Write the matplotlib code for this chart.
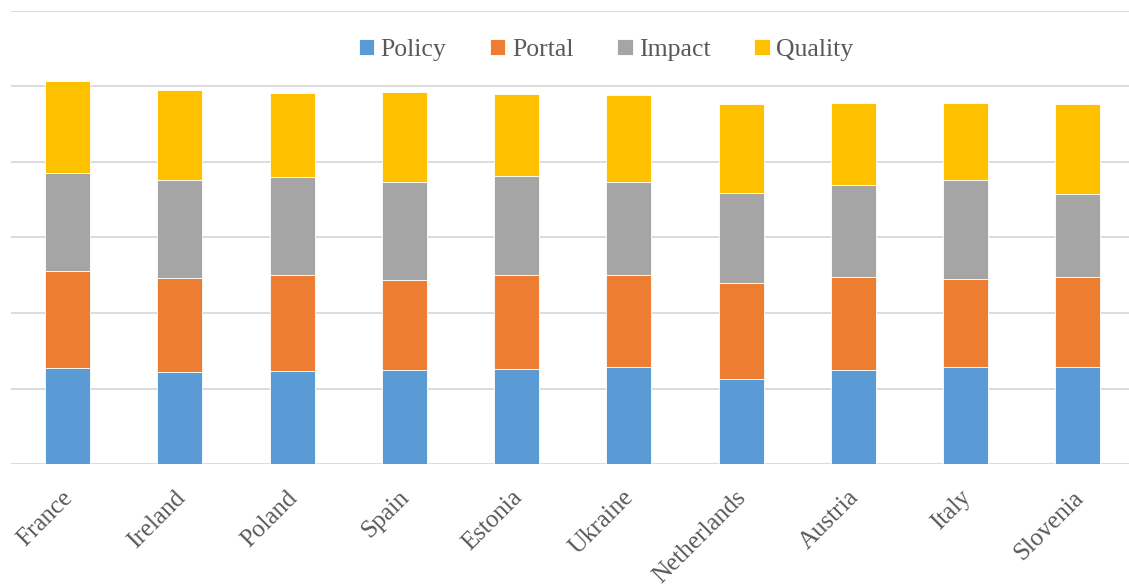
import matplotlib
matplotlib.use("Agg")
import matplotlib.pyplot as plt
import matplotlib.transforms as mtransforms
import numpy as np

countries = ["France", "Ireland", "Poland", "Spain", "Estonia", "Ukraine",
             "Netherlands", "Austria", "Italy", "Slovenia"]
policy  = [127.8, 121.7, 123.8, 124.7, 126.5, 128.3, 113.2, 124.7, 128.3, 129.1]
portal  = [127.5, 124.3, 126.2, 118.7, 124.3, 122.5, 126.2, 122.6, 117.2, 118.3]
impact  = [129.6, 129.6, 130.0, 130.0, 130.1, 122.6, 119.0, 121.7, 130.2, 109.8]
quality = [122.1, 119.4, 111.1, 119.0, 108.9, 115.5, 117.7, 109.3, 102.6, 119.4]
series_names = ["Policy", "Portal", "Impact", "Quality"]
colors = ["#5B9BD5", "#ED7D31", "#A5A5A5", "#FFC000"]

plt.rcParams['font.family'] = ['Liberation Serif', 'DejaVu Serif']

W, H = 1129, 585
fig = plt.figure(figsize=(W/100, H/100), dpi=100)
left, right = 11.4, 1134.0
bottom, top = 464.3, 10.7
ax = fig.add_axes([left/W, 1 - bottom/H, (right-left)/W, (bottom-top)/H])

x = np.arange(len(countries))
base = np.zeros(len(countries))
handles = []
for name, vals, c in zip(series_names, [policy, portal, impact, quality], colors):
    b = ax.bar(x, vals, width=0.4, bottom=base, color=c, label=name,
               edgecolor='white', linewidth=0.6, zorder=3)
    handles.append(b)
    base = base + np.array(vals)

ax.set_xlim(-0.5, len(countries) - 0.5)
ax.set_ylim(0, 600)
ax.set_yticks(np.arange(0, 601, 100))
ax.yaxis.grid(True, color='#D9D9D9', linewidth=1.3, zorder=0)
ax.tick_params(axis='y', left=False, labelleft=False)
ax.tick_params(axis='x', length=0, pad=16, labelsize=18, labelcolor='#595959')
for s in ax.spines.values():
    s.set_visible(False)
ax.set_xticks(x)
ax.set_xticklabels(countries, rotation=45, ha='right', rotation_mode='anchor')
offset = mtransforms.ScaledTranslation(-6/100, 0, fig.dpi_scale_trans)
for lab in ax.get_xticklabels():
    lab.set_transform(lab.get_transform() + offset)

fig.legend(handles, series_names, loc='center', bbox_to_anchor=(606/W, 1 - 50/H),
           ncol=4, frameon=False, fontsize=18.5, labelcolor='#595959',
           handlelength=0.6, handleheight=0.6, handletextpad=0.25,
           columnspacing=1.7)

fig.savefig("out.png", dpi=100)
